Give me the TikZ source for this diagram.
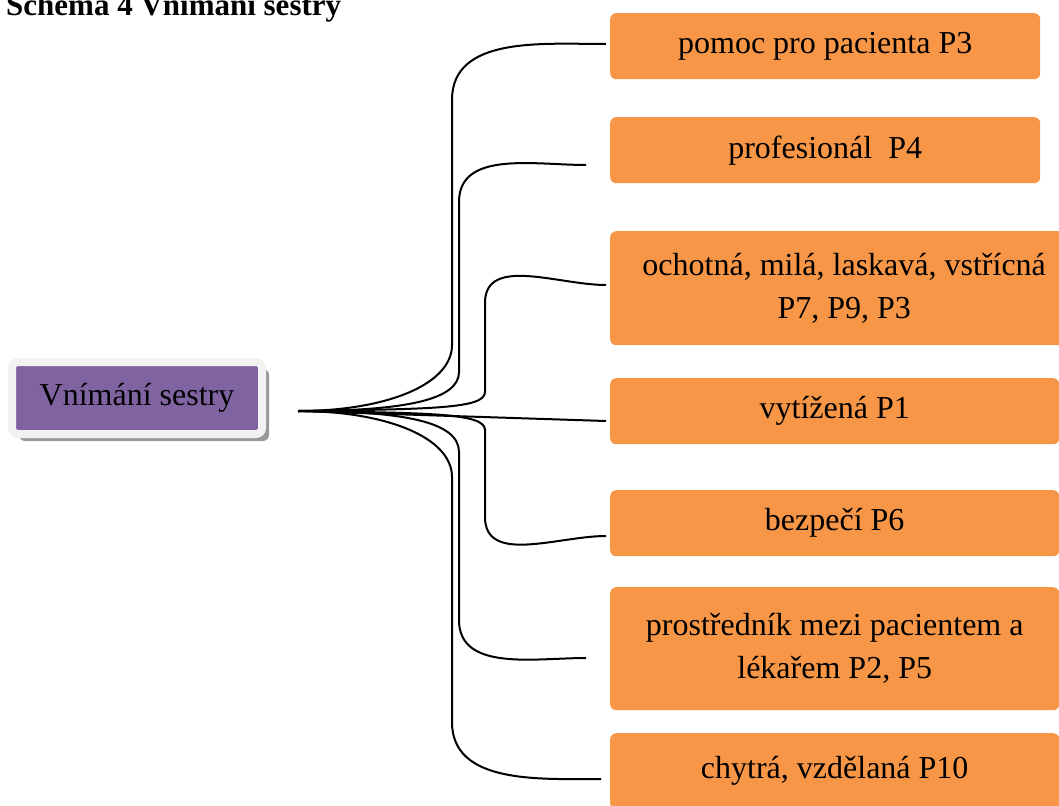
\documentclass[tikz,border=0pt]{standalone}
\usepackage{fontspec}
\setmainfont{Liberation Serif}
\usepackage{tikz}
\usetikzlibrary{shadows}
\definecolor{boxorange}{HTML}{F79646}
\definecolor{hubpurple}{HTML}{8064A2}
\definecolor{hubframe}{HTML}{F2F2F2}
\tikzstyle{branch}=[draw=black, line width=2pt]
\tikzstyle{leaf}=[rectangle, rounded corners=6pt, fill=boxorange, anchor=north west, inner sep=0pt, align=center, font=\fontsize{32}{43}\selectfont]
\tikzstyle{hub}=[rectangle, rounded corners=6pt, fill=hubpurple, draw=hubframe, line width=8pt, minimum width=250pt, minimum height=72pt, font=\fontsize{32}{43}\selectfont, drop shadow={shadow xshift=7pt, shadow yshift=-7pt, fill=black!40, opacity=1}]
\tikzstyle{caption}=[anchor=base west, inner sep=0pt, font=\fontsize{31}{38}\selectfont\bfseries]

\begin{document}
\begin{tikzpicture}[x=1pt, y=-1pt]
				\clip (0,0) rectangle (1059,805);
				\useasboundingbox (0,0) rectangle (1059,805);

				%The caption
				\node[caption] (cap) at (6,16) {Schema 4 Vnímání sestry};

				%The central node
				\node[hub] (hub) at (137,398) {Vnímání sestry};
				\coordinate (o) at (298,411);

				%The leaves
				\node[leaf, minimum width=430pt, minimum height=66pt] (b1) at (610,13) {pomoc pro pacienta P3};
				\node[leaf, minimum width=430pt, minimum height=66pt] (b2) at (610,117) {profesionál~~P4};
				\node[leaf, minimum width=458pt, minimum height=114pt] (b3) at (610,231) {\hspace*{10pt}ochotná, milá, laskavá, vstřícná\\ \hspace*{10pt}P7, P9, P3};
				\node[leaf, minimum width=449pt, minimum height=66pt] (b4) at (610,378) {vytížená P1};
				\node[leaf, minimum width=449pt, minimum height=66pt] (b5) at (610,490) {bezpečí P6};
				\node[leaf, minimum width=449pt, minimum height=123pt] (b6) at (610,587) {prostředník mezi pacientem a\\ lékařem P2, P5};
				\node[leaf, minimum width=449pt, minimum height=76pt] (b7) at (610,733) {chytrá, vzdělaná P10};

				%The free ends of the branches
				\coordinate (e1) at (606,44);
				\coordinate (e2) at (586,165);
				\coordinate (e3) at (606,285);
				\coordinate (e4) at (606,421);
				\coordinate (e5) at (606,536);
				\coordinate (e6) at (586,658);
				\coordinate (e7) at (601,779);

				%The upper branches
				\draw[branch] (o) .. controls (385,411) and (452,385) .. (452,345) -- (452,100) to[out=90,in=180] (e1);
				\draw[branch] (o) .. controls (405,411) and (459,400) .. (459,372) -- (459,202) to[out=90,in=180] (e2);
				\draw[branch] (o) .. controls (430,409) and (485,409) .. (485,392) -- (485,303) to[out=90,in=180] (e3);

				%The middle branch
				\draw[branch] (o) -- (e4);

				%The lower branches
				\draw[branch] (o) .. controls (430,413) and (485,413) .. (485,430) -- (485,517) to[out=-90,in=180] (e5);
				\draw[branch] (o) .. controls (405,411) and (459,422) .. (459,452) -- (459,620) to[out=-90,in=180] (e6);
				\draw[branch] (o) .. controls (385,411) and (452,437) .. (452,477) -- (452,722) to[out=-90,in=180] (e7);
			\end{tikzpicture}
\end{document}
